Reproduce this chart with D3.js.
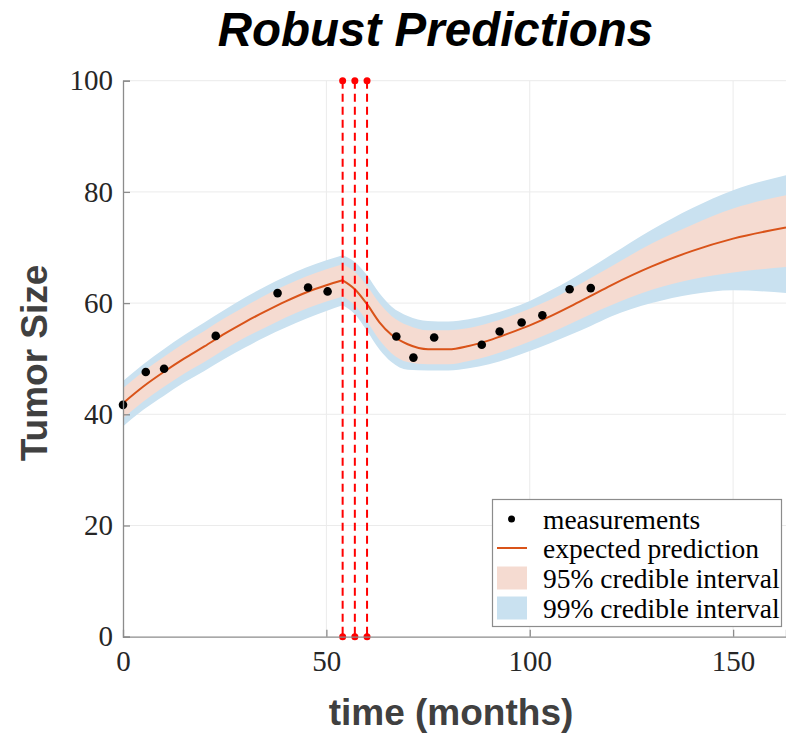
<!DOCTYPE html>
<html>
<head>
<meta charset="utf-8">
<script src="https://cdn.jsdelivr.net/npm/d3@7"></script>
<style>
  body { margin: 0; background: #fff; }
  svg { display: block; }
</style>
</head>
<body>
<div id="chart"></div>
<script>
// data
const measTime = [0, 5.6, 10.1, 22.8, 38.0, 45.5, 50.3, 67.2, 71.4, 76.5, 88.2, 92.6, 98.0, 103.1, 109.8, 115.0];
const measSize = [41.7, 47.6, 48.2, 54.1, 61.8, 62.8, 62.1, 54.0, 50.2, 53.8, 52.5, 54.9, 56.5, 57.8, 62.5, 62.7];

const predTime = [0, 5, 10, 15, 20, 25, 30, 35, 40, 45, 50, 54, 57, 60, 63, 66, 70, 75, 80, 85, 90, 95, 100, 105, 110, 115, 120, 130, 140, 150, 163];
const predMean = [42.0, 45.0, 47.6, 50.0, 52.2, 54.5, 56.6, 58.5, 60.3, 61.9, 63.2, 64.1, 62.5, 59.8, 56.6, 54.3, 52.6, 51.7, 51.7, 52.3, 53.3, 54.6, 56.0, 57.6, 59.4, 61.3, 63.2, 66.6, 69.4, 71.6, 73.6];
const lo95 = [39.3, 42.3, 44.9, 47.3, 49.4, 51.7, 53.8, 55.6, 57.4, 59.0, 60.3, 61.2, 59.6, 56.7, 53.4, 51.0, 49.4, 49.0, 49.0, 49.6, 50.5, 51.7, 53.1, 54.6, 56.3, 58.0, 59.6, 62.4, 64.3, 65.5, 66.5];
const hi95 = [44.7, 47.7, 50.3, 52.8, 55.0, 57.3, 59.4, 61.4, 63.2, 64.8, 66.1, 67.0, 65.6, 63.1, 60.0, 57.7, 56.0, 55.1, 55.1, 55.5, 56.4, 57.6, 59.0, 60.6, 62.5, 64.5, 66.6, 70.7, 74.1, 77.0, 79.4];
const lo99 = [37.8, 40.8, 43.3, 45.7, 47.8, 50.0, 52.0, 53.9, 55.6, 57.2, 58.6, 59.6, 58.0, 55.0, 51.7, 49.4, 48.0, 47.9, 47.9, 48.3, 49.0, 50.1, 51.4, 52.8, 54.3, 55.9, 57.6, 60.0, 61.6, 62.3, 61.8];
const hi99 = [46.0, 49.0, 51.7, 54.2, 56.5, 58.8, 61.0, 63.0, 64.8, 66.4, 67.7, 68.6, 67.4, 65.0, 61.8, 59.4, 57.7, 56.8, 56.7, 57.1, 57.9, 59.0, 60.4, 62.2, 64.2, 66.4, 68.7, 73.2, 77.1, 80.3, 83.0];

const changeTimes = [54, 57, 60];
const xTicks = [0, 50, 100, 150];
const yTicks = [0, 20, 40, 60, 80, 100];
const legendLabels = ["measurements", "expected prediction", "95% credible interval", "99% credible interval"];

const W = 786, H = 736;
const plotLeft = 123, plotRight = 786, plotTop = 80.7, plotBottom = 636.7;
const kink = 54; // sharp change of the curve at the first treatment

const orange = "#d95319", pink = "#f5dbd1", blue = "#c9e1f0";
const serif = "'Liberation Serif', 'Times New Roman', serif";
const sans = "'Liberation Sans', Arial, sans-serif";

const svg = d3.select("#chart").append("svg")
  .attr("width", W).attr("height", H);

const x = d3.scaleLinear().domain([0, 163]).range([plotLeft, plotRight]);
const y = d3.scaleLinear().domain([0, 100]).range([plotBottom, plotTop]);

// grid
const grid = svg.append("g").attr("stroke", "#ebebeb").attr("stroke-width", 1);
grid.selectAll("line.gx").data(xTicks.filter(d => d > 0)).enter().append("line")
  .attr("x1", d => x(d)).attr("x2", d => x(d))
  .attr("y1", y(0)).attr("y2", y(100));
grid.selectAll("line.gy").data(yTicks.filter(d => d > 0)).enter().append("line")
  .attr("x1", x(0)).attr("x2", plotRight)
  .attr("y1", d => y(d)).attr("y2", d => y(d));

const rows = predTime.map((t, i) => ({t, m: predMean[i], l95: lo95[i], h95: hi95[i], l99: lo99[i], h99: hi99[i]}));
const parts = [rows.filter(d => d.t <= kink), rows.filter(d => d.t >= kink)];

const band = (lo, hi) => d3.area()
  .x(d => x(d.t)).y0(d => y(d[lo])).y1(d => y(d[hi]))
  .curve(d3.curveMonotoneX);

parts.forEach(p => {
  svg.append("path").datum(p).attr("fill", blue).attr("d", band("l99", "h99"));
});
parts.forEach(p => {
  svg.append("path").datum(p).attr("fill", pink).attr("d", band("l95", "h95"));
});

const line = d3.line().x(d => x(d.t)).y(d => y(d.m)).curve(d3.curveMonotoneX);
parts.forEach(p => {
  svg.append("path").datum(p).attr("fill", "none")
    .attr("stroke", orange).attr("stroke-width", 2).attr("d", line);
});

// treatment times
const tr = svg.append("g");
changeTimes.forEach(t => {
  tr.append("line")
    .attr("x1", x(t)).attr("x2", x(t))
    .attr("y1", y(100)).attr("y2", y(0))
    .attr("stroke", "#ff0000").attr("stroke-width", 2)
    .attr("stroke-dasharray", "8,5");
  [0, 100].forEach(v => {
    tr.append("circle").attr("cx", x(t)).attr("cy", y(v)).attr("r", 3.5).attr("fill", "#ff0000");
  });
});

// measurements
svg.append("g").selectAll("circle").data(measTime).enter().append("circle")
  .attr("cx", d => x(d)).attr("cy", (d, i) => y(measSize[i]))
  .attr("r", 4.3).attr("fill", "#000");

// axes
const xAxis = d3.axisBottom(x).tickValues(xTicks).tickSize(-7).tickPadding(14);
const yAxis = d3.axisLeft(y).tickValues(yTicks).tickSize(-7).tickPadding(10);

const gx = svg.append("g").attr("transform", `translate(0,${plotBottom})`).call(xAxis);
const gy = svg.append("g").attr("transform", `translate(${plotLeft},0)`).call(yAxis);
[gx, gy].forEach(g => {
  g.select(".domain").attr("stroke", "#8c8c8c").attr("stroke-width", 1.3);
  g.selectAll(".tick line").attr("stroke", "#8c8c8c").attr("stroke-width", 1.3);
  g.selectAll(".tick text")
    .attr("font-family", serif)
    .attr("font-size", 29).attr("fill", "#262626");
});
gx.selectAll(".tick").filter(d => d === 0).select("line").remove();
gx.selectAll(".tick text").attr("dy", "0.71em");

// legend
const lg = svg.append("g");
lg.append("rect").attr("x", 492.5).attr("y", 499.5).attr("width", 289).attr("height", 127)
  .attr("fill", "#fff").attr("stroke", "#8c8c8c").attr("stroke-width", 1.2);
const rowY = [519, 548, 578, 608];
legendLabels.forEach((lab, i) => {
  lg.append("text").attr("x", 543).attr("y", rowY[i]).attr("dy", "0.35em")
    .attr("font-family", serif)
    .attr("font-size", 27.5).attr("fill", "#000").text(lab);
});
lg.append("circle").attr("cx", 511.5).attr("cy", rowY[0]).attr("r", 3.5).attr("fill", "#000");
lg.append("line").attr("x1", 497).attr("x2", 527).attr("y1", rowY[1]).attr("y2", rowY[1])
  .attr("stroke", orange).attr("stroke-width", 2);
lg.append("rect").attr("x", 497).attr("y", rowY[2] - 11.5).attr("width", 30).attr("height", 23).attr("fill", pink);
lg.append("rect").attr("x", 497).attr("y", rowY[3] - 11.5).attr("width", 30).attr("height", 23).attr("fill", blue);

// titles
svg.append("text").attr("x", 435.5).attr("y", 46).attr("text-anchor", "middle")
  .attr("font-family", sans)
  .attr("font-weight", "bold").attr("font-style", "italic")
  .attr("font-size", 47.5).attr("fill", "#000").text("Robust Predictions");

svg.append("text").attr("x", 451).attr("y", 725).attr("text-anchor", "middle")
  .attr("font-family", sans)
  .attr("font-weight", "bold").attr("font-size", 37).attr("fill", "#404040")
  .text("time (months)");

svg.append("text").attr("transform", `translate(47,363) rotate(-90)`).attr("text-anchor", "middle")
  .attr("font-family", sans)
  .attr("font-weight", "bold").attr("font-size", 37).attr("fill", "#404040")
  .text("Tumor Size");
</script>
</body>
</html>
